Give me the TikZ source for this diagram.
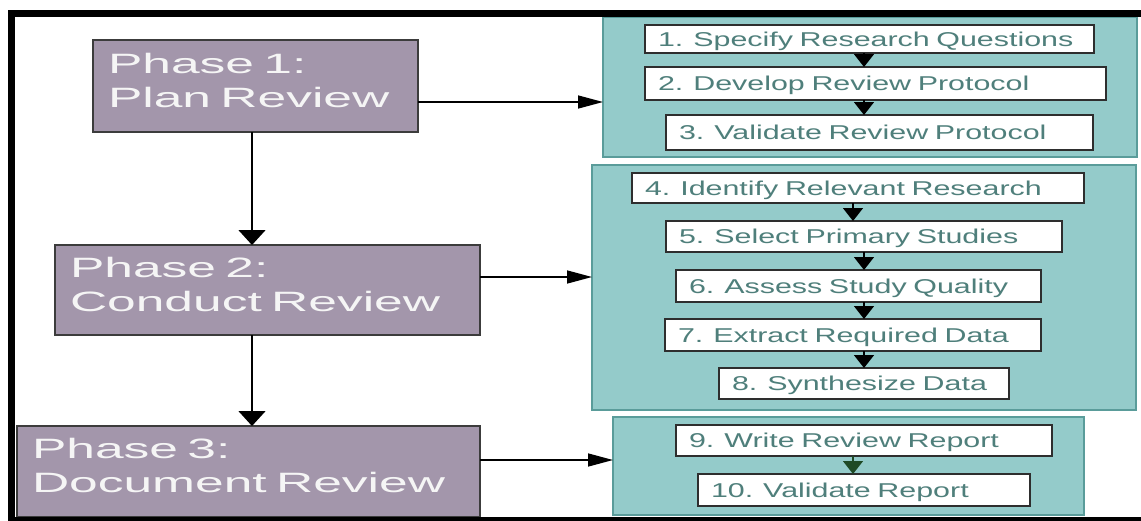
\documentclass[tikz,border=0pt]{standalone}
\usepackage{fontspec}
\setmainfont{Liberation Sans}
\newfontfamily\phasefont[FakeStretch=1.84]{Liberation Sans}
\newfontfamily\stepfont[FakeStretch=1.52]{Liberation Sans}
\usetikzlibrary{arrows.meta}
\definecolor{phasefill}{HTML}{A396AB}
\definecolor{phaseline}{HTML}{3C3C3C}
\definecolor{groupfill}{HTML}{94CBCA}
\definecolor{groupline}{HTML}{5A9C9A}
\definecolor{steptext}{HTML}{4F7F7B}
\definecolor{stepline}{HTML}{2E2E2E}
\definecolor{darkgreen}{HTML}{1F4A26}

\begin{document}
\begin{tikzpicture}[x=1pt,y=-1pt,
  phase/.style={draw=phaseline,line width=1.5pt,fill=phasefill,anchor=north west,outer sep=0pt,inner xsep=15pt,inner ysep=0pt,align=left,text=white!96!black,font=\phasefont\fontsize{28}{34}\selectfont,text height=20pt,text depth=46pt},
  group/.style={draw=groupline,line width=2.5pt,fill=groupfill,anchor=north west,outer sep=0pt,inner sep=0pt},
  stepbox/.style={draw=stepline,line width=2.5pt,fill=white,anchor=north west,outer sep=0pt,inner xsep=13pt,inner ysep=0pt,align=left,text=steptext,font=\stepfont\fontsize{20}{24}\selectfont,text height=15pt,text depth=1pt},
  harrow/.style={line width=1.5pt,-{Triangle[length=25pt,width=13pt]}},
  varrow/.style={line width=1.5pt,-{Triangle[length=15pt,width=27pt]}},
  sarrow/.style={line width=1.5pt,-{Triangle[length=13pt,width=20pt]}}]

\useasboundingbox (0,0) rectangle (1141,520);
\clip (0,0) rectangle (1141,520);
\fill[white] (0,0) rectangle (1141,520);

% phases
\node[phase,minimum width=325pt,minimum height=92pt,text width=295pt] (v1) at (93,40) {Phase 1:\\Plan Review};
\node[phase,minimum width=425pt,minimum height=90pt,text width=395pt] (v2) at (55,245) {Phase 2:\\Conduct Review};
\node[phase,minimum width=463pt,minimum height=91pt,text width=433pt] (v3) at (17,426) {Phase 3:\\Document Review};

% groups of steps
\node[group,minimum width=534pt,minimum height=140pt] (v4) at (603,17) {};
\node[group,minimum width=544pt,minimum height=245pt] (v5) at (592,165) {};
\node[group,minimum width=471pt,minimum height=98pt] (v6) at (613,417) {};

\node[stepbox,minimum height=28pt,text width=423pt] (v7) at (645,25) {1. Specify Research Questions};
\node[stepbox,minimum height=33pt,text width=435pt] (v8) at (645,67) {2. Develop Review Protocol};
\node[stepbox,minimum height=35pt,text width=401pt] (v9) at (666,115) {3. Validate Review Protocol};
\node[stepbox,minimum height=30pt,text width=426pt] (v10) at (632,173) {4. Identify Relevant Research};
\node[stepbox,minimum height=31pt,text width=370pt] (v11) at (666,221) {5. Select Primary Studies};
\node[stepbox,minimum height=32pt,text width=339pt] (v12) at (676,270) {6. Assess Study Quality};
\node[stepbox,minimum height=32pt,text width=350pt] (v13) at (665,319) {7. Extract Required Data};
\node[stepbox,minimum height=31pt,text width=264pt] (v14) at (719,368) {8. Synthesize Data};
\node[stepbox,minimum height=31pt,text width=350pt] (v15) at (676,425) {9. Write Review Report};
\node[stepbox,minimum height=32pt,text width=306pt] (v16) at (698,474) {10. Validate Report};

% arrows
\coordinate (c1) at ([yshift=-16pt]v1.east);
\coordinate (c2) at ([yshift=13pt]v2.east);
\coordinate (c3) at ([yshift=11.5pt]v3.east);
\coordinate (c4) at (252,0);
\coordinate (c5) at (864,0);
\coordinate (c6) at (853,0);
\draw [harrow] (c1) -- (c1 -| v4.west);
\draw [harrow] (c2) -- (c2 -| v5.west);
\draw [harrow] (c3) -- (c3 -| v6.west);
\draw [varrow] (v1.south -| c4) -- (v2.north -| c4);
\draw [varrow] (v2.south -| c4) -- (v3.north -| c4);
\draw [sarrow] (v7.south -| c5) -- (v8.north -| c5);
\draw [sarrow] (v8.south -| c5) -- (v9.north -| c5);
\draw [sarrow] (v10.south -| c6) -- (v11.north -| c6);
\draw [sarrow] (v11.south -| c5) -- (v12.north -| c5);
\draw [sarrow] (v12.south -| c5) -- (v13.north -| c5);
\draw [sarrow] (v13.south -| c5) -- (v14.north -| c5);
\draw [sarrow,darkgreen] (v15.south -| c6) -- (v16.north -| c6);

% frame
\draw[line width=7pt] (11,13.5) rectangle (1160,520.5);
\end{tikzpicture}
\end{document}
